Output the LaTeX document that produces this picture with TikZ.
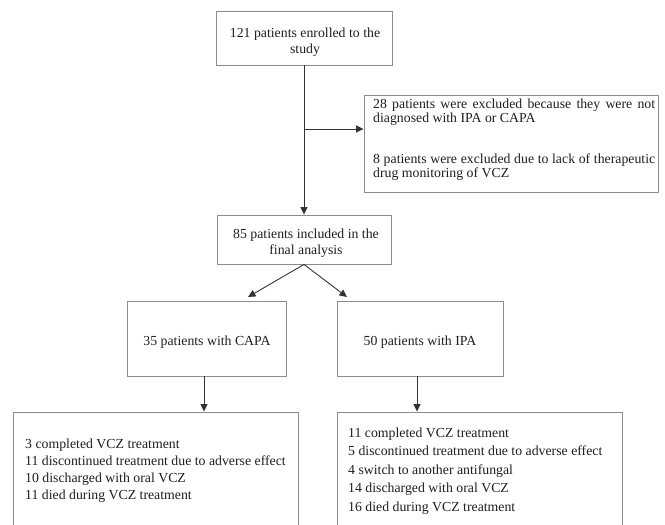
\documentclass[tikz,border=0pt]{standalone}
\usepackage{fontspec}
\setmainfont{Liberation Serif}
\usetikzlibrary{arrows.meta}
\definecolor{boxgray}{HTML}{8C8C8C}
\definecolor{arrgray}{HTML}{333333}
\definecolor{textgray}{HTML}{1E1E1E}
\begin{document}
\begin{tikzpicture}[x=1pt,y=-1pt,
  box/.style={draw=boxgray, line width=0.9pt, inner sep=0pt},
  ctxt/.style={font=\fontsize{13.8}{16.5}\selectfont, text=textgray, inner sep=0pt, align=center},
  conn/.style={draw=arrgray, line width=0.9pt, -{Triangle[length=7.5pt,width=7pt]}},
  txt/.style={font=\fontsize{13.8}{17}\selectfont, text=textgray, inner sep=0pt, align=left}]
\useasboundingbox (0,0) rectangle (665,525);
\clip (0,0) rectangle (665,525);
% boxes
\node[box, minimum width=176pt, minimum height=54pt] (enr) at (304,38) {};
\node[box, minimum width=294pt, minimum height=97pt] (excl) at (511,143.5) {};
\node[box, minimum width=174pt, minimum height=49pt] (incl) at (304,239.5) {};
\node[box, minimum width=159pt, minimum height=75pt] (capa) at (206.5,338.5) {};
\node[box, minimum width=166pt, minimum height=75pt] (ipa) at (420,338.5) {};
\node[box, minimum width=285pt, minimum height=140pt] (bl) at (155.5,482) {};
\node[box, minimum width=285pt, minimum height=140pt] (br) at (479.5,482) {};
% texts
\node[ctxt] (enrtxt) at (305,42) {121 patients enrolled to the\\study};
\node[ctxt] (incltxt) at (306,243) {85 patients included in the\\final analysis};
\node[ctxt] (capatxt) at (207,342) {35 patients with CAPA};
\node[ctxt] (ipatxt) at (420,342) {50 patients with IPA};
\node[txt, font=\fontsize{13.8}{14}\selectfont, anchor=north west] (excltxt) at (373,98.5)
  {\makebox[282pt][s]{28 patients were excluded because they were not}\\
   diagnosed with IPA or CAPA\\[27pt]
   \makebox[282pt][s]{8 patients were excluded due to lack of therapeutic}\\
   drug monitoring of VCZ};
\node[txt, anchor=north west] (bltxt) at (25,439)
  {3 completed VCZ treatment\\
   11 discontinued treatment due to adverse effect\\
   10 discharged with oral VCZ\\
   11 died during VCZ treatment};
\node[txt, font=\fontsize{13.8}{18.5}\selectfont, anchor=north west] (brtxt) at (348,427.5)
  {11 completed VCZ treatment\\
   5 discontinued treatment due to adverse effect\\
   4 switch to another antifungal\\
   14 discharged with oral VCZ\\
   16 died during VCZ treatment};
% connectors
\coordinate (j) at (304,129);
\coordinate (ca) at (248,297);
\coordinate (ia) at (347,297);
\draw[conn] (enr.south) -- (incl.north);
\draw[conn] (j) -- (j -| excl.west);
\draw[conn] (incl.south) -- (ca);
\draw[conn] (incl.south) -- (ia);
\draw[conn] ([xshift=-2.5pt]capa.south) -- ([xshift=-2.5pt]capa.south |- bl.north);
\draw[conn] ([xshift=-3pt]ipa.south) -- ([xshift=-3pt]ipa.south |- br.north);
\end{tikzpicture}
\end{document}
